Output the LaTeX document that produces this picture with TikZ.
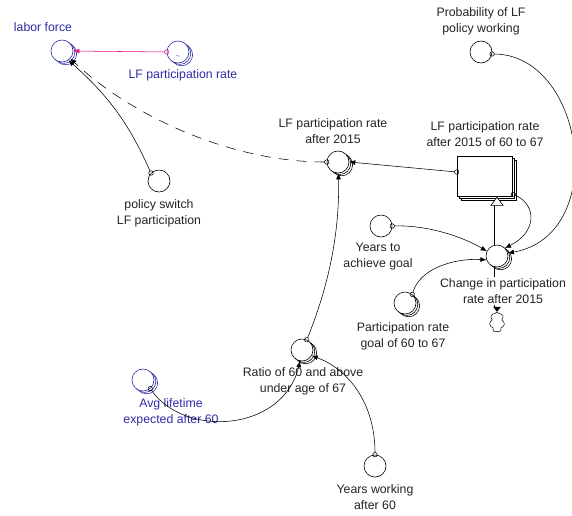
\documentclass[tikz,border=0pt]{standalone}
\usepackage{fontspec}
\setmainfont{Liberation Sans}
\usetikzlibrary{shadows,arrows.meta,shapes.symbols,calc}
\definecolor{vblue}{RGB}{45,45,170}
\definecolor{vpink}{RGB}{225,30,130}
\definecolor{vtext}{RGB}{35,35,35}
\begin{document}
\begin{tikzpicture}[x=1pt,y=-1pt,
  conv/.style={circle,draw=black,fill=white,minimum size=22pt,inner sep=0pt,line width=0.6pt},
  bconv/.style={conv,draw=vblue},
  stack3/.style={double copy shadow={shadow xshift=1.8pt,shadow yshift=-1.4pt}},
  lbl/.style={font=\fontsize{12.3}{16}\selectfont,align=center,text=vtext,inner sep=0pt},
  blbl/.style={lbl,text=vblue},
  link/.style={line width=0.55pt,{Circle[open,length=5pt,width=5pt]}-{Latex[length=6pt,width=5pt]},shorten <=-2.5pt},
]
\useasboundingbox (0,0) rectangle (572,515);

% flow pipe, cloud and stock
\node[draw,fill=white,line width=0.6pt,minimum width=55pt,minimum height=40pt,inner sep=0pt,
      double copy shadow={shadow xshift=2.2pt,shadow yshift=-2.2pt}] (stock) at (484.5,176) {};
\node[cloud,cloud puffs=7,aspect=0.75,draw,line width=0.5pt,minimum width=15pt,minimum height=20pt,inner sep=0pt] (cloud) at (497,322) {};
\coordinate (pipetop) at ($(stock.south -| cloud)+(0,9)$);
\coordinate (pipebot) at ($(cloud.north)+(0,-4)$);
\draw[line width=0.6pt,double distance=5pt] (pipebot) -- (pipetop);
\draw[line width=0.6pt,fill=white] ($(pipetop)+(-6,0)$) -- ($(stock.south -| cloud)+(0,1)$) -- ($(pipetop)+(6,0)$) -- cycle;
\fill ($(cloud.north)+(-4,-5)$) -- ($(cloud.north)+(4,-5)$) -- ($(cloud.north)+(0,0)$) -- cycle;
\node[conv,stack3] (chg) at (497,256) {};

% converters
\node[bconv,stack3] (lf) at (62,51) {};
\node[bconv,stack3] (lfpr) at (178,52) {};
\node[text=vblue,inner sep=0pt,font=\tiny] (lfpr-t) at ($(lfpr)+(0,5)$) {$\sim$};
\node[conv] (prob) at (481,52) {};
\node[conv,stack3] (lfpr15) at (338,162) {};
\node[conv] (pol) at (159,181) {};
\node[conv] (yrs) at (381,226) {};
\node[conv,stack3] (goal) at (405,303) {};
\node[conv,stack3] (ratio) at (302,350) {};
\node[bconv,stack3] (avg) at (143,380) {};
\node[conv] (ywork) at (375,466) {};

% labels
\node[blbl] (lf-l) at (43,27) {labor force};
\node[blbl] (lfpr-l) at (183,75) {LF participation rate};
\node[lbl] (prob-l) at (481,21) {Probability of LF\\policy working};
\node[lbl] (lfpr15-l) at (333,131) {LF participation rate\\after 2015};
\node[lbl] (stock-l) at (485,134) {LF participation rate\\after 2015 of 60 to 67};
\node[lbl] (pol-l) at (159,213) {policy switch\\LF participation};
\node[lbl] (yrs-l) at (378,257) {Years to\\achieve goal};
\node[lbl,fill=white,inner sep=1pt] (chg-l) at (503,291) {Change in participation\\rate after 2015};
\node[lbl] (goal-l) at (403,336) {Participation rate\\goal of 60 to 67};
\node[lbl] (ratio-l) at (303,381) {Ratio of 60 and above\\under age of 67};
\node[blbl] (avg-l) at (171,412) {Avg lifetime\\expected after 60};
\node[lbl] (ywork-l) at (375,497) {Years working\\after 60};

% connectors
\draw[link,draw=vpink,fill=vpink] (lfpr.west) -- (lf.east);
\draw[link] (pol.135) to[bend right=12] (lf.-55);
\draw[link,dash pattern=on 10pt off 8pt] (lfpr15.west) .. controls (230,162) and (130,115) .. (lf.-42);
\draw[link] ([yshift=4pt]stock.west) -- (lfpr15.east);
\draw[link] (ratio.65) .. controls (325,295) and (340,240) .. (lfpr15.-88);
\draw[link] (avg.-50) .. controls (185,438) and (283,432) .. (ratio.-100);
\draw[link] (ywork.north) .. controls (375,405) and (350,370) .. (ratio.-30);
\draw[link] (yrs.east) .. controls (430,225) and (465,238) .. (chg.155);
\draw[link] (goal.50) .. controls (420,268) and (455,258) .. (chg.200);
\draw[link] ([shift={(1,-2)}]stock.south east) .. controls (537,205) and (537,232) .. (chg.45);
\draw[link] (prob.-10) .. controls (585,55) and (610,235) .. (chg.15);
\end{tikzpicture}
\end{document}
